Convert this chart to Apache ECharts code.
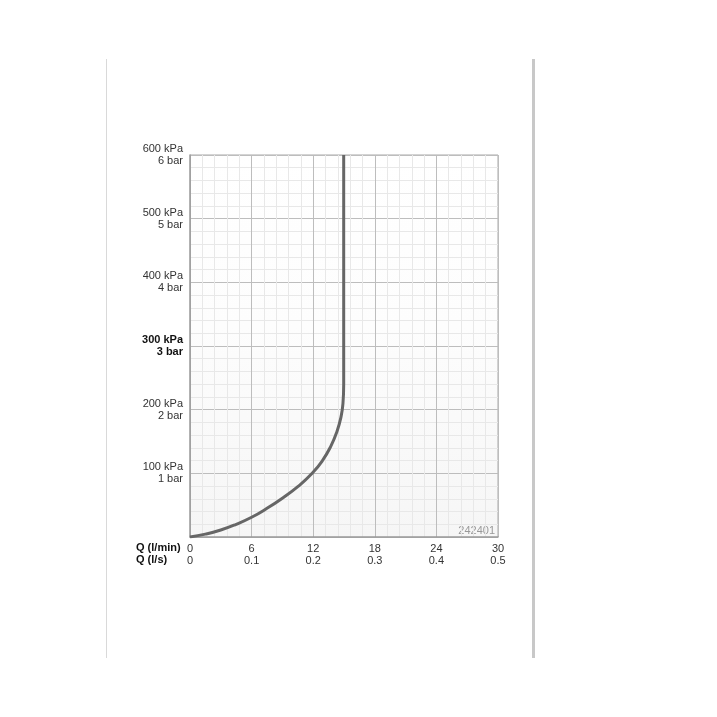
<!DOCTYPE html>
<html>
<head>
<meta charset="utf-8">
<script src="https://cdn.jsdelivr.net/npm/echarts@6/dist/echarts.min.js"></script>
<style>html,body{margin:0;padding:0;background:#fff;}#c{width:717px;height:717px;}</style>
</head>
<body>
<div id="c"></div>
<script>
// Data
const flowLpm = [0, 1.5, 3, 4.5, 6, 7.5, 9, 10.5, 11.9, 12.9, 13.7, 14.3, 14.7, 14.9, 14.97, 14.97];
const pressureKpa = [0, 4.5, 11, 20, 31, 45, 61, 79, 100, 120, 142, 165, 188, 210, 240, 600];
const xTicksLpm = ['0', '6', '12', '18', '24', '30'];
const xTicksLs = ['0', '0.1', '0.2', '0.3', '0.4', '0.5'];
const yTicksKpa = ['0 kPa', '100 kPa', '200 kPa', '300 kPa', '400 kPa', '500 kPa', '600 kPa'];
const yTicksBar = ['0 bar', '1 bar', '2 bar', '3 bar', '4 bar', '5 bar', '6 bar'];
const boldPressure = 300;
const productCode = '242401';

const FONT = '"Liberation Sans", Arial, Helvetica, sans-serif';
const chart = echarts.init(document.getElementById('c'), null, {renderer: 'canvas'});
chart.setOption({
  animation: false,
  backgroundColor: '#fff',
  grid: {
    left: 190, right: 219, top: 155, bottom: 180,
    show: true,
    borderWidth: 0,
    backgroundColor: new echarts.graphic.LinearGradient(0, 0, 0, 1, [
      {offset: 0, color: '#ffffff'}, {offset: 0.45, color: '#fdfdfd'}, {offset: 1, color: '#f6f6f6'}
    ])
  },
  xAxis: {
    type: 'value', min: 0, max: 30, interval: 6,
    axisLine: {show: true, onZero: false, lineStyle: {color: '#999', width: 1.5}},
    axisTick: {show: false},
    splitLine: {show: true, lineStyle: {color: '#bdbdbd', width: 1}},
    minorTick: {show: false, splitNumber: 5},
    minorSplitLine: {show: true, lineStyle: {color: '#e8e8e8', width: 1}},
    axisLabel: {
      margin: 6, color: '#333', fontFamily: FONT, fontSize: 11, lineHeight: 12,
      formatter: function (v) { const i = Math.round(v / 6); return xTicksLpm[i] + '\n' + xTicksLs[i]; }
    }
  },
  yAxis: {
    type: 'value', min: 0, max: 600, interval: 100,
    axisLine: {show: true, lineStyle: {color: '#999', width: 1.5}},
    axisTick: {show: false},
    splitLine: {show: true, lineStyle: {color: '#bdbdbd', width: 1}},
    minorTick: {show: false, splitNumber: 5},
    minorSplitLine: {show: true, lineStyle: {color: '#e8e8e8', width: 1}},
    axisLabel: {
      margin: 7, color: '#333', fontFamily: FONT, fontSize: 11, lineHeight: 12, align: 'right',
      formatter: function (v) {
        if (v === 0) return '';
        const i = Math.round(v / 100);
        if (v === boldPressure) return '{b|' + yTicksKpa[i] + '}\n{b|' + yTicksBar[i] + '}';
        return yTicksKpa[i] + '\n' + yTicksBar[i];
      },
      rich: {b: {fontWeight: 'bold', color: '#111', fontFamily: FONT, fontSize: 11, lineHeight: 12, align: 'right'}}
    }
  },
  graphic: [
    {type: 'rect', shape: {x: 106, y: 59, width: 1, height: 599}, style: {fill: '#d9d9d9'}, silent: true},
    {type: 'rect', shape: {x: 532, y: 59, width: 3, height: 599}, style: {fill: '#c8c8c8'}, silent: true},
    {type: 'rect', shape: {x: 190, y: 154.5, width: 308, height: 1}, style: {fill: '#aaa'}, silent: true},
    {type: 'rect', shape: {x: 497.5, y: 155, width: 1, height: 382}, style: {fill: '#aaa'}, silent: true},
    {type: 'text', left: 136, top: 542, style: {text: 'Q (l/min)\nQ (l/s)', font: 'bold 11px ' + FONT, fill: '#111', lineHeight: 12}, silent: true},
    {type: 'text', right: 222, top: 525, style: {text: productCode, font: '11px ' + FONT, fill: '#999'}, silent: true}
  ],
  series: [{
    type: 'line',
    data: flowLpm.map((x, i) => [x, pressureKpa[i]]),
    smooth: 0.5,
    showSymbol: false,
    lineStyle: {color: '#666', width: 3},
    z: 5
  }]
});
</script>
</body>
</html>
